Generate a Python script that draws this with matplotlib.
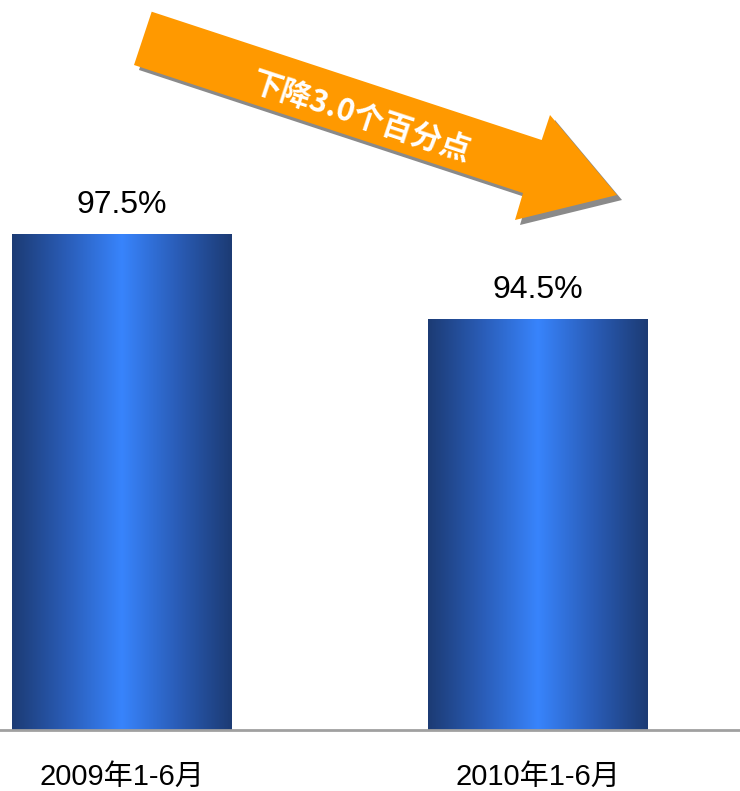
import matplotlib
matplotlib.use("Agg")
import matplotlib.pyplot as plt
import numpy as np
from matplotlib.colors import LinearSegmentedColormap
from matplotlib.patches import Polygon

plt.rcParams['font.family'] = ['Liberation Sans', 'Noto Sans CJK SC', 'DejaVu Sans']

categories = ['2009年1-6月', '2010年1-6月']
values = [97.5, 94.5]
value_labels = ['97.5%', '94.5%']
arrow_text = '下降3.0个百分点'

W, H, DPI = 740, 791, 100
fig = plt.figure(figsize=(W / DPI, H / DPI), dpi=DPI)

# main axes: baseline at pixel 730 from top, y from 80
base_px = 730
ax = fig.add_axes([0, (H - base_px) / H, 1, base_px / H])
ppu = 85 / 3.0
ymin = 80
ymax = ymin + base_px / ppu
px_per_x = 416.0
x0_px = 122.0
ax.axis('off')

xpos = np.arange(len(categories))
bw = 220 / px_per_x
cmap = LinearSegmentedColormap.from_list(
    'barg', ['#1c3b74', '#2a5db8', '#3884fc', '#2a5db8', '#1c3b74'])
grad = np.linspace(0, 1, 256).reshape(1, -1)
bars = ax.bar(xpos, [v - ymin for v in values], bottom=ymin, width=bw,
              color='none', edgecolor='none')
for b in bars:
    x, y = b.get_x(), b.get_y()
    w, h = b.get_width(), b.get_height()
    im = ax.imshow(grad, cmap=cmap, aspect='auto',
                   extent=[x, x + w, y, y + h], zorder=2)
    im.set_clip_path(b)
ax.set_xlim(-x0_px / px_per_x, (W - x0_px) / px_per_x)
ax.set_ylim(ymin, ymax)

for xi, v, lab in zip(xpos, values, value_labels):
    ax.annotate(lab, (xi, v), xytext=(0, 15), textcoords='offset points',
                ha='center', va='baseline', fontsize=23, color='black')

# baseline
ax.axhline(ymin, color='#a0a0a0', lw=2, zorder=3, clip_on=False)

# category labels
for xi, c in zip(xpos, categories):
    ax.annotate(c, (xi, ymin), xytext=(0, -39.5), textcoords='offset points',
                ha='center', va='baseline', fontsize=21, color='black',
                annotation_clip=False)

# arrow overlay in pixel coordinates
ov = fig.add_axes([0, 0, 1, 1])
ov.set_xlim(0, W)
ov.set_ylim(H, 0)
ov.axis('off')
ov.patch.set_alpha(0)
arrow_pts = np.array([
    [151.7, 11.7], [541.7, 140], [550, 115], [617, 195],
    [515, 220], [523, 193], [134, 65]])
shadow = Polygon(arrow_pts + np.array([5, 5]), closed=True,
                 facecolor='#8a8a8a', edgecolor='none', zorder=1)
ov.add_patch(shadow)
arr = Polygon(arrow_pts, closed=True, facecolor='#ff9900',
              edgecolor='none', zorder=2)
ov.add_patch(arr)
ov.text(361, 117, arrow_text, rotation=-18.2, rotation_mode='anchor',
        ha='center', va='center', fontsize=22, color='white',
        fontweight='bold', style='italic',
        family=['Noto Sans CJK SC', 'DejaVu Sans'], zorder=3)

fig.savefig('out.png', dpi=DPI)
